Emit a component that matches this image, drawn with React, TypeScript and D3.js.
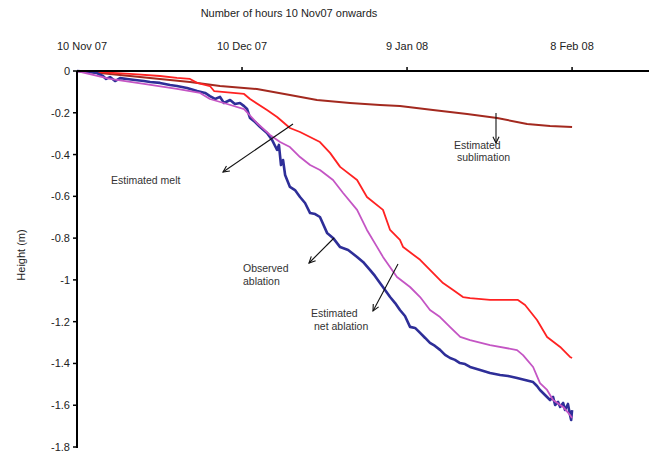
import React from "react";
import * as d3 from "d3";

// Hours since 10 Nov 2007 and surface height change (m)
const meltHours = [0, 100, 231, 362, 436, 493, 524, 580, 598, 729, 755, 829, 873, 929, 973, 1060, 1104, 1148, 1222, 1265, 1335, 1366, 1409, 1423, 1497, 1540, 1597, 1641, 1684, 1715, 1802, 1924, 1955, 2007, 2051, 2108, 2151, 2160];
const meltHeight = [0, -0.005, -0.014, -0.024, -0.033, -0.038, -0.057, -0.072, -0.096, -0.11, -0.134, -0.187, -0.22, -0.273, -0.292, -0.34, -0.392, -0.459, -0.522, -0.603, -0.665, -0.761, -0.809, -0.843, -0.904, -0.952, -1.015, -1.048, -1.082, -1.087, -1.096, -1.096, -1.12, -1.192, -1.273, -1.321, -1.369, -1.374];

const netHours = [0, 144, 292, 436, 537, 580, 655, 729, 785, 842, 886, 929, 973, 1017, 1060, 1117, 1161, 1222, 1265, 1309, 1335, 1396, 1453, 1497, 1540, 1584, 1628, 1672, 1715, 1802, 1920, 1946, 1990, 2020, 2051, 2077, 2121, 2151, 2160];
const netHeight = [0, -0.038, -0.062, -0.086, -0.105, -0.134, -0.158, -0.182, -0.249, -0.306, -0.34, -0.364, -0.412, -0.45, -0.474, -0.522, -0.584, -0.665, -0.761, -0.842, -0.89, -0.986, -1.034, -1.082, -1.144, -1.178, -1.226, -1.273, -1.288, -1.312, -1.336, -1.36, -1.417, -1.494, -1.527, -1.575, -1.608, -1.647, -1.661];

const observedHours = [0, 57, 87, 113, 127, 144, 166, 188, 218, 253, 292, 319, 362, 406, 436, 480, 524, 559, 580, 602, 624, 641, 668, 689, 711, 729, 742, 755, 777, 799, 829, 851, 873, 881, 890, 899, 908, 929, 951, 973, 995, 1017, 1039, 1060, 1091, 1117, 1148, 1183, 1222, 1248, 1279, 1300, 1322, 1344, 1366, 1388, 1409, 1431, 1453, 1475, 1497, 1519, 1540, 1562, 1584, 1606, 1628, 1649, 1671, 1693, 1715, 1759, 1802, 1846, 1881, 1920, 1955, 1990, 2007, 2020, 2042, 2064, 2077, 2086, 2099, 2108, 2121, 2129, 2142, 2151, 2156, 2160];
const observedHeight = [0, -0.005, -0.01, -0.024, -0.038, -0.029, -0.048, -0.034, -0.038, -0.043, -0.048, -0.053, -0.057, -0.067, -0.072, -0.081, -0.096, -0.105, -0.12, -0.134, -0.124, -0.153, -0.139, -0.158, -0.153, -0.168, -0.182, -0.225, -0.244, -0.268, -0.297, -0.33, -0.378, -0.354, -0.45, -0.426, -0.498, -0.555, -0.57, -0.603, -0.632, -0.68, -0.685, -0.699, -0.775, -0.799, -0.843, -0.857, -0.89, -0.914, -0.953, -0.981, -1.015, -1.048, -1.082, -1.111, -1.144, -1.173, -1.225, -1.23, -1.254, -1.278, -1.302, -1.316, -1.335, -1.359, -1.374, -1.383, -1.398, -1.403, -1.417, -1.431, -1.446, -1.455, -1.46, -1.47, -1.479, -1.489, -1.508, -1.527, -1.551, -1.575, -1.56, -1.599, -1.584, -1.608, -1.589, -1.623, -1.594, -1.647, -1.671, -1.623];

const sublimationHours = [0, 100, 231, 362, 493, 624, 785, 929, 1047, 1191, 1322, 1409, 1553, 1702, 1833, 1964, 2064, 2160];
const sublimationHeight = [0, -0.01, -0.024, -0.038, -0.053, -0.072, -0.086, -0.115, -0.139, -0.153, -0.163, -0.168, -0.187, -0.206, -0.225, -0.254, -0.263, -0.268];

const dateTicks = [0, 720, 1440, 2160];
const dateLabels = ["10 Nov 07", "10 Dec 07", "9 Jan 08", "8 Feb 08"];
const heightTicks = [0, -0.2, -0.4, -0.6, -0.8, -1, -1.2, -1.4, -1.6, -1.8];

const W = 656;
const H = 452;
const font = "Liberation Sans, Arial, sans-serif";

const x = d3.scaleLinear().domain([0, 2500]).range([77, 650]);
const y = d3.scaleLinear().domain([-1.8, 0]).range([447, 71]);

const pts = (hs: number[], vs: number[]) => hs.map((h, i) => [h, vs[i]] as [number, number]);
const line = d3.line<[number, number]>().x((d) => x(d[0])).y((d) => y(d[1]));

const series = [
  { data: pts(sublimationHours, sublimationHeight), color: "#a3291f", width: 2 },
  { data: pts(meltHours, meltHeight), color: "#ff2222", width: 1.8 },
  { data: pts(observedHours, observedHeight), color: "#2e2e98", width: 2.6 },
  { data: pts(netHours, netHeight), color: "#c455c4", width: 1.8 },
];

// annotation arrows: tail -> head, in pixel space
const arrows = [
  { x1: 293, y1: 124, x2: 223, y2: 172 },
  { x1: 334, y1: 238, x2: 309, y2: 263 },
  { x1: 398, y1: 264, x2: 373, y2: 311 },
  { x1: 496, y1: 113, x2: 496, y2: 143 },
];

function arrowHead(a: { x1: number; y1: number; x2: number; y2: number }) {
  const ang = Math.atan2(a.y2 - a.y1, a.x2 - a.x1);
  const len = 7;
  const spread = 0.45;
  const p1 = [a.x2 - len * Math.cos(ang - spread), a.y2 - len * Math.sin(ang - spread)];
  const p2 = [a.x2 - len * Math.cos(ang + spread), a.y2 - len * Math.sin(ang + spread)];
  return `M${p1[0]},${p1[1]}L${a.x2},${a.y2}L${p2[0]},${p2[1]}`;
}

export default function App() {
  return (
    <svg
      width={W}
      height={H}
      style={{ position: "absolute", left: 0, top: 0, background: "#fff" }}
      fontFamily={font}
    >
      <rect width={W} height={H} fill="#fff" />
      <text x={289} y={17} fontSize={11} textAnchor="middle" fill="#222">
        Number of hours 10 Nov07 onwards
      </text>

      {series.map((s, i) => (
        <path key={i} d={line(s.data) ?? ""} fill="none" stroke={s.color} strokeWidth={s.width} strokeLinejoin="round" />
      ))}

      {/* axes */}
      <line x1={x(0)} x2={649} y1={y(0)} y2={y(0)} stroke="#000" strokeWidth={2} />
      <line x1={x(0)} x2={x(0)} y1={y(0)} y2={y(-1.8) + 1} stroke="#000" strokeWidth={2} />
      {dateTicks.map((t, i) => (
        <g key={t}>
          {i > 0 && <line x1={x(t)} x2={x(t)} y1={y(0)} y2={y(0) - 4} stroke="#000" strokeWidth={1.5} />}
          <text x={x(t) + (i === 0 ? 5 : 0)} y={50} fontSize={11} textAnchor="middle" fill="#222">
            {dateLabels[i]}
          </text>
        </g>
      ))}
      {heightTicks.map((t) => (
        <g key={t}>
          <line x1={x(0) - 4} x2={x(0)} y1={y(t)} y2={y(t)} stroke="#000" strokeWidth={1.5} />
          <text x={70} y={y(t) + 4} fontSize={11} textAnchor="end" fill="#222">
            {String(t)}
          </text>
        </g>
      ))}
      <text transform="translate(25,255) rotate(-90)" fontSize={11} textAnchor="middle" fill="#222">
        Height (m)
      </text>

      {arrows.map((a, i) => (
        <g key={i} stroke="#111" strokeWidth={1.1} fill="none">
          <line x1={a.x1} y1={a.y1} x2={a.x2} y2={a.y2} />
          <path d={arrowHead(a)} />
        </g>
      ))}

      <g fontSize={10.5} fill="#333">
        <text x={111} y={184}>Estimated melt</text>
        <text x={243} y={272}>Observed</text>
        <text x={243} y={285}>ablation</text>
        <text x={311} y={317}>Estimated</text>
        <text x={314} y={330}>net ablation</text>
        <text x={454} y={149}>Estimated</text>
        <text x={457} y={161}>sublimation</text>
      </g>
    </svg>
  );
}
